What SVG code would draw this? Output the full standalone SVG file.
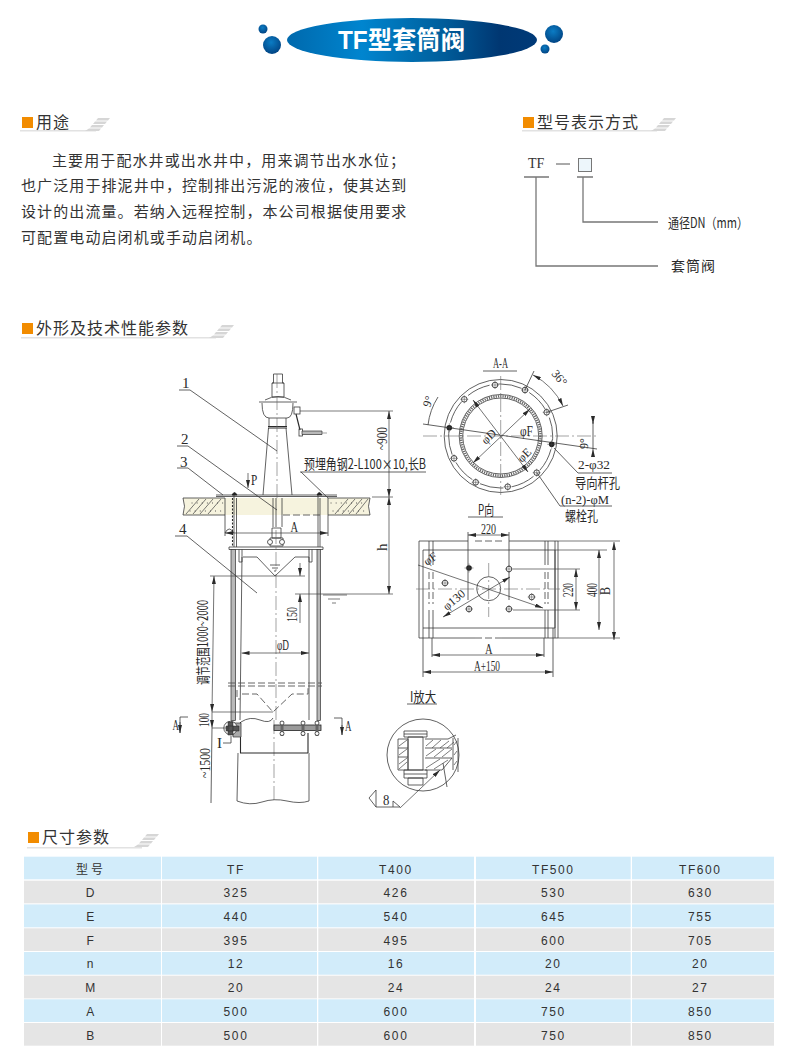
<svg xmlns="http://www.w3.org/2000/svg" width="795" height="1064" viewBox="0 0 795 1064">
<style>
.l{fill:none;stroke:#3a3a3a;stroke-width:.8}
.m{fill:none;stroke:#2a2a2a;stroke-width:1.1}
.h{fill:none;stroke:#444;stroke-width:.7}
.c{fill:none;stroke:#666;stroke-width:.6;stroke-dasharray:14 3 2 3}
.d{fill:none;stroke:#555;stroke-width:.9;stroke-dasharray:7 3}
.a{fill:none;stroke:#3a3a3a;stroke-width:.7;marker-start:url(#ar);marker-end:url(#ar)}
.e{fill:none;stroke:#3a3a3a;stroke-width:.7;marker-end:url(#ar)}
.g{fill:none;stroke:#777;stroke-width:1.3}
.dt{font-family:"Liberation Serif","Noto Sans CJK SC",serif;font-size:15px;fill:#2a2a2a}
.s13{font-size:13px}
.s12{font-size:12px}
.cn{font-family:"Noto Sans CJK SC",sans-serif;font-size:14px;fill:#2a2a2a}
.hd{font-family:"Noto Sans CJK SC",sans-serif;font-size:16px;letter-spacing:1px;fill:#333}
.p{font-family:"Noto Sans CJK SC",sans-serif;font-size:15px;letter-spacing:1.1px;fill:#333}
.tb{font-family:"Liberation Sans","Noto Sans CJK SC",sans-serif;font-size:12px;letter-spacing:1.6px;fill:#333;text-anchor:middle}
.sq{fill:#f28c00}
.ul{fill:#e2e2e2}
.bl{fill:#d2ecfa}
.gy{fill:#e5e5e5}
.ho{fill:#fff;stroke:#333;stroke-width:.8}
.bk{fill:#222;stroke:#222;stroke-width:.8}
.rod{fill:#b9b9b9;stroke:#333;stroke-width:.7}
.dot{fill:none;stroke:#444;stroke-width:1;stroke-linecap:round;stroke-dasharray:.1 5}
</style>
<defs>
<marker id="ar" viewBox="0 0 8 4" refX="8" refY="2" markerWidth="8" markerHeight="4" markerUnits="userSpaceOnUse" orient="auto-start-reverse"><path d="M0 0L8 2L0 4Z" fill="#2a2a2a"/></marker>
<linearGradient id="tg" x1="0" x2="1" y1="0" y2="0"><stop offset="0" stop-color="#0069ad"/><stop offset=".3" stop-color="#0085cf"/><stop offset=".6" stop-color="#00619f"/><stop offset=".85" stop-color="#003772"/><stop offset="1" stop-color="#003a78"/></linearGradient>
<radialGradient id="bg" cx=".45" cy=".35" r=".7"><stop offset="0" stop-color="#0b7cc4"/><stop offset="1" stop-color="#00407f"/></radialGradient>
<g id="hatchmark"><path d="M13 0H25L23 2.500H11ZM10 3.500H22L20 6H8ZM7 7H19L17 9.500H5ZM4 10.500H16L14 13H0Z" fill="#d6d6d6"/></g>
<g id="hb"><circle r="2.800" fill="#fff" stroke="#333" stroke-width=".9"/><path d="M-4 0H4M0 -4V4" stroke="#444" stroke-width=".5"/></g>
<g id="bb"><circle r="2.800" fill="#222"/><path d="M-4.500 0H4.500M0 -4.500V4.500" stroke="#444" stroke-width=".5"/></g>
</defs>
<rect width="795" height="1064" fill="#fff"/>

<g id="title">
<ellipse cx="412" cy="40" rx="125" ry="22" fill="url(#tg)"/>
<ellipse cx="263" cy="29" rx="4.500" ry="4.500" fill="url(#bg)"/>
<ellipse cx="272" cy="45" rx="9" ry="9" fill="url(#bg)"/>
<ellipse cx="554" cy="34" rx="9" ry="9" fill="url(#bg)"/>
<ellipse cx="545" cy="49" rx="4.500" ry="4.500" fill="url(#bg)"/>
<text x="338" y="49" textLength="127" lengthAdjust="spacingAndGlyphs" font-family="'Liberation Sans','Noto Sans CJK SC',sans-serif" font-size="25" font-weight="700" fill="#fff">TF型套筒阀</text>
</g>

<g id="head-use">
<rect class="ul" x="20" y="130" width="76" height="1.500"/><use href="#hatchmark" x="85" y="118"/>
<rect class="sq" x="22" y="117" width="11" height="11"/>
<text class="hd" x="36" y="128">用途</text>
</g>
<g id="use-text" class="p">
<text x="52" y="166">主要用于配水井或出水井中，用来调节出水水位；</text>
<text x="21" y="191">也广泛用于排泥井中，控制排出污泥的液位，使其达到</text>
<text x="21" y="217">设计的出流量。若纳入远程控制，本公司根据使用要求</text>
<text x="21" y="243">可配置电动启闭机或手动启闭机。</text>
</g>

<g id="head-model">
<rect class="ul" x="522" y="130" width="135" height="1.500"/><use href="#hatchmark" x="651" y="118"/>
<rect class="sq" x="523" y="117" width="11" height="11"/>
<text class="hd" x="537" y="128">型号表示方式</text>
</g>
<g id="model">
<text x="528" y="168" font-family="'Liberation Serif',serif" font-size="14" fill="#333">TF</text>
<path d="M556 164H570" stroke="#555" stroke-width="1"/>
<rect x="578.500" y="158.500" width="13" height="13" fill="#edf6fb" stroke="#777"/>
</g>
<g id="model-connectors">
<path class="g" d="M524 177H549M577 177H593M536 177V266H658M583 177V222H658"/>
</g>
<g id="model-labels">
<text class="cn s12" x="668" y="228" textLength="80" lengthAdjust="spacingAndGlyphs">通径DN（mm）</text>
<text class="cn s13" x="671" y="271" letter-spacing="1">套筒阀</text>
</g>

<g id="head-shape">
<rect class="ul" x="21" y="337" width="195" height="1.500"/><use href="#hatchmark" x="209" y="325"/>
<rect class="sq" x="22" y="323" width="11" height="11"/>
<text class="hd" x="36" y="334">外形及技术性能参数</text>
</g>

<g id="elevation">
<rect x="225" y="498" width="103" height="17" fill="#f6f3de"/>
<path d="M183 498H225V515H183Q186 506 183 498ZM328 498H370Q367 506 370 515H328Z" fill="#f6f3de"/>
<path class="l" d="M183 498H225M183 515H225M328 498H370M328 515H370M183 498Q186 506 183 515M370 498Q367 506 370 515M216 495H337M216 496.500H337"/>
<path class="h" d="M186 514L199 499M193 514L206 499M200 514L213 499M208 514L221 499M335 514L348 499M342 514L355 499M349 514L362 499M356 514L368 499"/>
<path class="dot" d="M190 511H223M192 503H224M331 503H362M333 511H366"/>
<path class="d" d="M283 515H320"/>
<path class="l" d="M273.500 374H282.500V383H284V397H272V383H273.500ZM272 383H284"/>
<path class="l" d="M265 400Q278 393 291 400M259 402H297M262 403Q262 418 269 418H287Q293 418 293 403M269 418V426M286 418V426"/>
<path class="m" d="M268 426.500H287M268 428H287"/>
<path class="l" d="M268.500 428L263 495M286 428L292 495"/>
<rect class="l" x="294" y="407" width="6" height="7"/>
<path class="m" d="M296 414L300 430"/>
<rect class="l" x="299" y="429" width="3.500" height="7"/>
<path class="rod" d="M302 431H322V434.500H302Z"/>
<path class="c" d="M322 433H327M277 374V500"/>
<path class="l" d="M273 498V527M282 498V527M276 498V527M272 528H281V538H272ZM229 547H323V549.500H229ZM239 549.500V562H242V549.500M309 549.500V562H312V549.500"/>
<path class="l" d="M270 538H283V546H270Z"/>
<circle class="ho" cx="270" cy="542" r="2.500"/><circle class="ho" cx="282" cy="542" r="2.500"/>
<rect class="rod" x="231" y="549.500" width="4.500" height="171"/><rect class="rod" x="317" y="549.500" width="3.500" height="171"/>
<path class="l" d="M234 494V547M236.500 498V547M318 494V547M320 498V547"/>
<path class="m" d="M232.500 498V547" stroke-dasharray="2 1.500"/>
<path class="bk" d="M232 495Q234.500 490 237 495ZM317 495Q319 490 322 495Z"/>
<path class="l" d="M242 557L240 720M309 557V720M243 557H257L275 576L295 557H309"/>
<path class="l" d="M270 565H280M272 568H278M274 571H276"/>
<path class="c" d="M276 530V720M274 720V802"/>
<path class="d" d="M228 683H322M228 686H322"/>
<path class="d" d="M237 690V699H240M242 694H257L273 712L292 694H308V687"/>
<path class="l" d="M241 722Q250 716 260 720T273 718"/>
<path class="m" d="M240.500 722V753H308M308 733V753"/>
<path class="l" d="M238 753L237 801M309 753V801M237 801Q250 806 262 802T287 801T309 801"/>
<rect x="274" y="725" width="47" height="5.500" fill="#9a9a9a" stroke="#222" stroke-width=".8"/>
<path d="M282 721V736M303 721V736M317 721V736" stroke="#666" stroke-width="3" fill="none"/>
<g class="ho"><circle cx="282" cy="723" r="2"/><circle cx="282" cy="733.500" r="2"/><circle cx="303" cy="723" r="2"/><circle cx="303" cy="733.500" r="2"/><circle cx="317" cy="723" r="2"/><circle cx="317" cy="733.500" r="2"/></g>
<path d="M233 723H241V737H233Z" fill="#aaa" stroke="#333" stroke-width=".7"/>
<circle cx="230.500" cy="728" r="6.700" fill="#fff" stroke="#333" stroke-width=".8"/>
<path d="M226 726H239V731H226ZM228 722H233V735H228Z" fill="#555" stroke="#222" stroke-width=".5"/>
<path class="l" d="M225 498V536M328 498V536M225 533Q229 525 234 533"/>
<path class="a" d="M225 533H328"/>
<text class="dt" transform="translate(290.500,532) scale(.7,1)">A</text>
<path class="h" d="M210 576H305M212 712H273M212 728H230"/>
<path class="a" d="M214 576L212 712"/>
<path class="e" d="M212 712V728"/>
<path class="l" d="M212 728L211 803"/>
<path class="e" d="M300 563V576"/><path class="e" d="M300 623V594"/>
<path class="a" d="M241.500 653H309"/>
<path class="h" d="M300 411H393M295 594H393M323 595H347M328 599H340M332 603H336"/>
<path class="a" d="M389 411V497"/>
<path class="a" d="M389 497V594"/>
<path class="h" d="M372 497H393"/>
<path class="l" d="M180 733V717H188M342 735V718H334"/>
<path class="e" d="M180 722V733"/><path class="e" d="M342 725V735"/>
<path class="l" d="M223 743H231V736"/>
<path class="l" d="M179 390H190L277 451M177 446H188L277 510M177 468H188L223 495M175 536H187L257 593"/>
<path class="l" d="M300 472H426M301 472L328 498"/>
<path class="e" d="M248 473V488"/>
<text class="dt" transform="translate(251,485) scale(.75,1)">P</text>
<text class="dt" x="182" y="388">1</text><text class="dt" x="181" y="444">2</text><text class="dt" x="180" y="467">3</text><text class="dt" x="179" y="534">4</text>
<text class="cn" x="304" y="469" textLength="122" lengthAdjust="spacingAndGlyphs">预埋角钢2-L100×10,长B</text>
<text class="dt" transform="translate(387,450) rotate(-90)" textLength="23" lengthAdjust="spacingAndGlyphs">~900</text>
<text class="dt" transform="translate(387,551) rotate(-90)">h</text>
<text class="dt" transform="translate(297,622) rotate(-90)" textLength="15" lengthAdjust="spacingAndGlyphs">150</text>
<text class="dt" x="277" y="650" textLength="12" lengthAdjust="spacingAndGlyphs">φD</text>
<text class="cn s12" transform="translate(208,685) rotate(-90)" textLength="85" lengthAdjust="spacingAndGlyphs">调节范围1000~2000</text>
<text class="dt" transform="translate(209,727) rotate(-90)" textLength="14" lengthAdjust="spacingAndGlyphs">100</text>
<text class="dt" transform="translate(210,778) rotate(-90)" textLength="30" lengthAdjust="spacingAndGlyphs">~1500</text>
<text class="dt" transform="translate(172.500,730) scale(.6,1)">A</text><text class="dt" transform="translate(345,731) scale(.6,1)">A</text>
<text class="dt" x="217" y="748">I</text>
</g>

<g id="section-aa">
<circle class="l" cx="500.700" cy="436" r="56.500"/>
<circle class="l" cx="500.700" cy="436" r="52" stroke-dasharray="24 8.670" stroke-dashoffset="19.260"/>
<circle cx="500.700" cy="436" r="39.700" fill="none" stroke="#666" stroke-width="2.400" stroke-dasharray="1.200 1.100"/>
<circle class="l" cx="500.700" cy="436" r="41.500"/>
<circle class="l" cx="500.700" cy="436" r="38"/>
<path class="c" d="M500.700 376V495M423 436H598"/>
<path class="l" d="M423 424L597 449"/>
<path class="a" d="M473 400L528 472"/>
<path class="a" d="M473 463L530 409"/>
<use href="#hb" x="525" y="390"/><use href="#hb" x="546.700" y="412.300"/><use href="#bb" x="551.700" y="444.300"/><use href="#hb" x="536.700" y="472.700"/><use href="#hb" x="507.700" y="486.700"/><use href="#hb" x="475.700" y="482.300"/><use href="#hb" x="454" y="458.300"/><use href="#bb" x="449.300" y="427.700"/><use href="#hb" x="464.300" y="399.300"/><use href="#hb" x="495" y="385"/>
<path class="l" d="M525 390L534 371M546.700 412.300L568 405"/>
<path class="a" d="M533 375A69 69 0 0 1 563 406"/>
<path class="l" d="M438 397A66 66 0 0 0 428 425"/>
<path class="l" d="M593 422V449"/>
<path class="e" d="M593 416V424"/><path class="e" d="M593 455V449"/>
<text class="dt" x="493" y="368" textLength="15" lengthAdjust="spacingAndGlyphs">A-A</text>
<path class="l" d="M483 371H517"/>
<text class="dt s12" transform="translate(551,374) rotate(50)">36°</text>
<text class="dt s12" transform="translate(430,408) rotate(-70)">9°</text>
<text class="dt s12" transform="translate(588,449) rotate(-90)">9°</text>
<text class="dt" x="520" y="436" textLength="13" lengthAdjust="spacingAndGlyphs">φF</text>
<text class="dt s12" transform="translate(486,445) rotate(-45)">φD</text>
<text class="dt s12" transform="translate(522,463) rotate(-45)">φE</text>
<path class="l" d="M554 448L578 473H612M537 473L560 506H612"/>
<text class="dt s13" x="578" y="469" textLength="32" lengthAdjust="spacingAndGlyphs">2-φ32</text>
<text class="cn s12" x="575" y="487.500" textLength="45" lengthAdjust="spacingAndGlyphs">导向杆孔</text>
<text class="dt s13" x="561" y="503.500" textLength="48" lengthAdjust="spacingAndGlyphs">(n-2)-φM</text>
<text class="cn s12" x="565" y="521" textLength="33" lengthAdjust="spacingAndGlyphs">螺栓孔</text>
</g>

<g id="view-p">
<text class="cn" x="478" y="515" textLength="16" lengthAdjust="spacingAndGlyphs">P向</text>
<path class="l" d="M468 517H503"/>
<text class="dt" x="481" y="534" textLength="15" lengthAdjust="spacingAndGlyphs">220</text>
<path class="a" d="M468 535H509"/>
<path class="l" d="M468 532V600M509 532V600"/>
<path class="l" d="M419 541H468M509 541H558M419 541V638M423 550H555V628H423ZM419 638H475M502 638H558M558 541V638"/>
<path class="d" d="M475 541H502M475 638H502"/>
<path class="l" d="M429 541V565M429 610V638M433 541V565M433 610V638M545 541V565M545 610V638M548 541V565M548 610V638M555 541V638"/>
<path class="d" d="M429 572V604M433 572V604M545 572V604M548 572V604"/>
<circle class="l" cx="488.700" cy="588.700" r="12"/>
<path class="c" d="M416 589H560M488.700 563V617"/>
<use href="#bb" x="469" y="568"/><use href="#hb" x="509" y="569"/><use href="#hb" x="469" y="609"/><use href="#hb" x="509" y="609"/>
<use href="#hb" x="445" y="583"/><use href="#hb" x="531.700" y="597"/>
<path class="e" d="M418 565L543 608"/>
<path class="a" d="M443 617L510 577"/>
<text class="dt s12" transform="translate(427,566) rotate(-35)">φF</text>
<text class="dt s12" transform="translate(447,611) rotate(-40)">φ130</text>
<path class="h" d="M513 569H580M513 610H580M555 550H607M558 541H620M558 638H620"/>
<path class="a" d="M576 569V610"/>
<path class="a" d="M599 550V630"/>
<path class="a" d="M614 542V640"/>
<text class="dt" transform="translate(573,597) rotate(-90)" textLength="14" lengthAdjust="spacingAndGlyphs">220</text>
<text class="dt" transform="translate(597,597) rotate(-90)" textLength="14" lengthAdjust="spacingAndGlyphs">400</text>
<text class="dt" transform="translate(610,595) rotate(-90) scale(.8,1)">B</text>
<path class="l" d="M432 638V657M544 638V657M423 628V677M553 628V677"/>
<path class="a" d="M432 655H544"/>
<path class="a" d="M423 672H553"/>
<text class="dt" transform="translate(485,654) scale(.7,1)">A</text>
<text class="dt" x="474" y="671" textLength="26" lengthAdjust="spacingAndGlyphs">A+150</text>
</g>

<g id="detail-i">
<text class="cn" x="410" y="702" textLength="26" lengthAdjust="spacingAndGlyphs">I放大</text>
<path class="l" d="M407 704H437"/>
<circle class="l" cx="423" cy="755" r="36"/>
<path class="l" d="M404 731H427V737H404ZM408 737H423V770H408ZM404 770H427V778H404ZM408 778H423V785H408ZM404 734H427M404 774H427"/>
<path class="l" d="M398 739H408V770H398ZM398 748H408M398 757H408M425 739H448L456 735M425 758H452M425 770H442L452 758M453 738V770M458 738V772M443 763L447 787"/>
<path class="h" d="M399 746L407 740M399 755L407 749M399 764L407 758M399 769L407 762M426 746L433 740M432 748L441 740M440 748L449 741M447 748L454 742M426 756L436 749M434 757L444 749M442 757L452 749M426 768L440 759M434 769L448 760M454 745L457 741M454 755L457 751M454 765L457 761"/>
<path class="l" d="M425 748H452"/>
<path class="e" d="M400 808L440 770"/>
<path class="l" d="M376 790L369 798L376 807V790M376 807H400L393 801V807"/>
<text class="dt" transform="translate(383,805) scale(.85,1)">8</text>
</g>

<g id="head-size">
<rect class="ul" x="27" y="847" width="115" height="1.500"/><use href="#hatchmark" x="134" y="834"/>
<rect class="sq" x="28" y="832" width="11" height="11"/>
<text class="hd" x="42" y="843">尺寸参数</text>
</g>

<g id="table">
<g class="bl"><rect x="24" y="856.700" width="137" height="22.600"/><rect x="162" y="856.700" width="155" height="22.600"/><rect x="318.300" y="856.700" width="155.700" height="22.600"/><rect x="476" y="856.700" width="154.700" height="22.600"/><rect x="632" y="856.700" width="142" height="22.600"/></g>
<g class="gy"><rect x="24" y="880.700" width="137" height="22.600"/><rect x="162" y="880.700" width="155" height="22.600"/><rect x="318.300" y="880.700" width="155.700" height="22.600"/><rect x="476" y="880.700" width="154.700" height="22.600"/><rect x="632" y="880.700" width="142" height="22.600"/></g>
<g class="bl"><rect x="24" y="904.400" width="137" height="22.900"/><rect x="162" y="904.400" width="155" height="22.900"/><rect x="318.300" y="904.400" width="155.700" height="22.900"/><rect x="476" y="904.400" width="154.700" height="22.900"/><rect x="632" y="904.400" width="142" height="22.900"/></g>
<g class="gy"><rect x="24" y="928.300" width="137" height="22.700"/><rect x="162" y="928.300" width="155" height="22.700"/><rect x="318.300" y="928.300" width="155.700" height="22.700"/><rect x="476" y="928.300" width="154.700" height="22.700"/><rect x="632" y="928.300" width="142" height="22.700"/></g>
<g class="bl"><rect x="24" y="952" width="137" height="22.700"/><rect x="162" y="952" width="155" height="22.700"/><rect x="318.300" y="952" width="155.700" height="22.700"/><rect x="476" y="952" width="154.700" height="22.700"/><rect x="632" y="952" width="142" height="22.700"/></g>
<g class="gy"><rect x="24" y="975.700" width="137" height="22.700"/><rect x="162" y="975.700" width="155" height="22.700"/><rect x="318.300" y="975.700" width="155.700" height="22.700"/><rect x="476" y="975.700" width="154.700" height="22.700"/><rect x="632" y="975.700" width="142" height="22.700"/></g>
<g class="bl"><rect x="24" y="999.300" width="137" height="22.700"/><rect x="162" y="999.300" width="155" height="22.700"/><rect x="318.300" y="999.300" width="155.700" height="22.700"/><rect x="476" y="999.300" width="154.700" height="22.700"/><rect x="632" y="999.300" width="142" height="22.700"/></g>
<g class="gy"><rect x="24" y="1023" width="137" height="22.700"/><rect x="162" y="1023" width="155" height="22.700"/><rect x="318.300" y="1023" width="155.700" height="22.700"/><rect x="476" y="1023" width="154.700" height="22.700"/><rect x="632" y="1023" width="142" height="22.700"/></g>
<g class="tb">
<text x="91" y="873.500" style="letter-spacing:3px">型号</text><text x="236" y="873.500">TF</text><text x="396" y="873.500">T400</text><text x="553.300" y="873.500">TF500</text><text x="700.300" y="873.500">TF600</text>
<text x="91" y="897">D</text><text x="236" y="897">325</text><text x="396" y="897">426</text><text x="553.300" y="897">530</text><text x="700.300" y="897">630</text>
<text x="91" y="921">E</text><text x="236" y="921">440</text><text x="396" y="921">540</text><text x="553.300" y="921">645</text><text x="700.300" y="921">755</text>
<text x="91" y="944.500">F</text><text x="236" y="944.500">395</text><text x="396" y="944.500">495</text><text x="553.300" y="944.500">600</text><text x="700.300" y="944.500">705</text>
<text x="91" y="968">n</text><text x="236" y="968">12</text><text x="396" y="968">16</text><text x="553.300" y="968">20</text><text x="700.300" y="968">20</text>
<text x="91" y="992">M</text><text x="236" y="992">20</text><text x="396" y="992">24</text><text x="553.300" y="992">24</text><text x="700.300" y="992">27</text>
<text x="91" y="1015.500">A</text><text x="236" y="1015.500">500</text><text x="396" y="1015.500">600</text><text x="553.300" y="1015.500">750</text><text x="700.300" y="1015.500">850</text>
<text x="91" y="1039.500">B</text><text x="236" y="1039.500">500</text><text x="396" y="1039.500">600</text><text x="553.300" y="1039.500">750</text><text x="700.300" y="1039.500">850</text>
</g>
</g>
</svg>
